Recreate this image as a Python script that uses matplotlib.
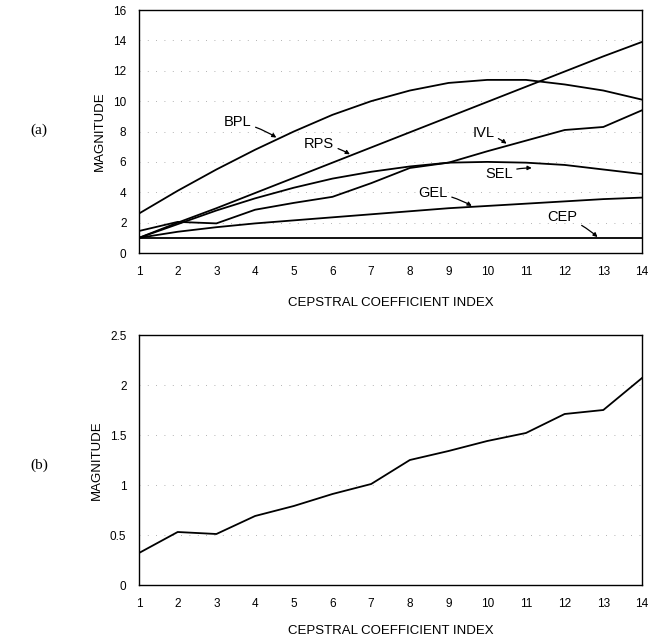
import matplotlib
matplotlib.use("Agg")
import matplotlib.pyplot as plt

# cepstral coefficient index
idx = list(range(1, 15))

# (a) lifter magnitudes
bpl = [2.6, 4.1, 5.5, 6.8, 8.0, 9.1, 10.0, 10.7, 11.2, 11.4, 11.4, 11.1, 10.7, 10.1]
rps = [1.0, 2.0, 2.95, 3.95, 4.95, 5.95, 6.95, 7.95, 8.95, 9.95, 10.95, 11.95, 12.95, 13.9]
ivl = [1.45, 2.05, 1.95, 2.85, 3.3, 3.7, 4.6, 5.6, 5.95, 6.7, 7.4, 8.1, 8.3, 9.4]
sel = [1.0, 1.9, 2.8, 3.6, 4.3, 4.9, 5.35, 5.7, 5.95, 6.0, 5.95, 5.8, 5.5, 5.2]
gel = [1.0, 1.4, 1.7, 1.95, 2.15, 2.35, 2.55, 2.75, 2.95, 3.1, 3.25, 3.4, 3.55, 3.65]
cep = [1.0] * 14

# (b)
mag_b = [0.32, 0.53, 0.51, 0.69, 0.79, 0.91, 1.01, 1.25, 1.34, 1.44, 1.52, 1.71, 1.75, 2.07]

# label text pos, arrow tip
labels = [
    ("BPL", (3.55, 8.6), (4.55, 7.6)),
    ("RPS", (5.65, 7.2), (6.45, 6.5)),
    ("IVL", (9.9, 7.9), (10.5, 7.2)),
    ("SEL", (10.3, 5.2), (11.15, 5.6)),
    ("GEL", (8.6, 3.95), (9.6, 3.1)),
    ("CEP", (11.95, 2.4), (12.85, 1.05)),
]

plt.rcParams["font.family"] = ["Liberation Sans", "DejaVu Sans"]

fig = plt.figure(figsize=(6.66, 6.43), dpi=100)
ax1 = fig.add_axes([0.2087, 0.6065, 0.7553, 0.3779])
ax2 = fig.add_axes([0.2087, 0.0902, 0.7553, 0.3888])

grid_style = dict(color="#999999", linestyle=(0, (1, 9)), linewidth=0.6)

for ax, pad in ((ax1, 14), (ax2, 11)):
    ax.set_xlim(1, 14)
    ax.set_xticks(idx)
    ax.tick_params(length=0, pad=9, labelsize=8.5)
    ax.yaxis.grid(True, **grid_style)
    ax.set_axisbelow(True)
    for s in ax.spines.values():
        s.set_linewidth(1.0)
    ax.set_xlabel("CEPSTRAL COEFFICIENT INDEX", fontsize=9.5, labelpad=pad)
    ax.set_ylabel("MAGNITUDE", fontsize=9.5, labelpad=5)

lw = 1.3
for series in (bpl, rps, ivl, sel, gel, cep):
    ax1.plot(idx, series, color="black", linewidth=lw)
ax1.set_ylim(0, 16)
ax1.set_yticks(range(0, 17, 2))

for name, txt, tip in labels:
    ax1.annotate(name, xy=tip, xytext=txt, fontsize=10.5, ha="center", va="center",
                 arrowprops=dict(arrowstyle="-|>", color="black", lw=0.9,
                                 mutation_scale=6, shrinkA=1, shrinkB=0,
                                 connectionstyle="arc3,rad=-0.1"))

ax2.plot(idx, mag_b, color="black", linewidth=lw)
ax2.set_ylim(0, 2.5)
ax2.set_yticks([0, 0.5, 1, 1.5, 2, 2.5])
ax2.set_yticklabels(["0", "0.5", "1", "1.5", "2", "2.5"])

fig.text(30 / 666, 1 - 130 / 643, "(a)", family="Liberation Serif", fontsize=11, ha="left", va="center")
fig.text(30 / 666, 1 - 465 / 643, "(b)", family="Liberation Serif", fontsize=11, ha="left", va="center")

fig.savefig("out.png", dpi=100)
